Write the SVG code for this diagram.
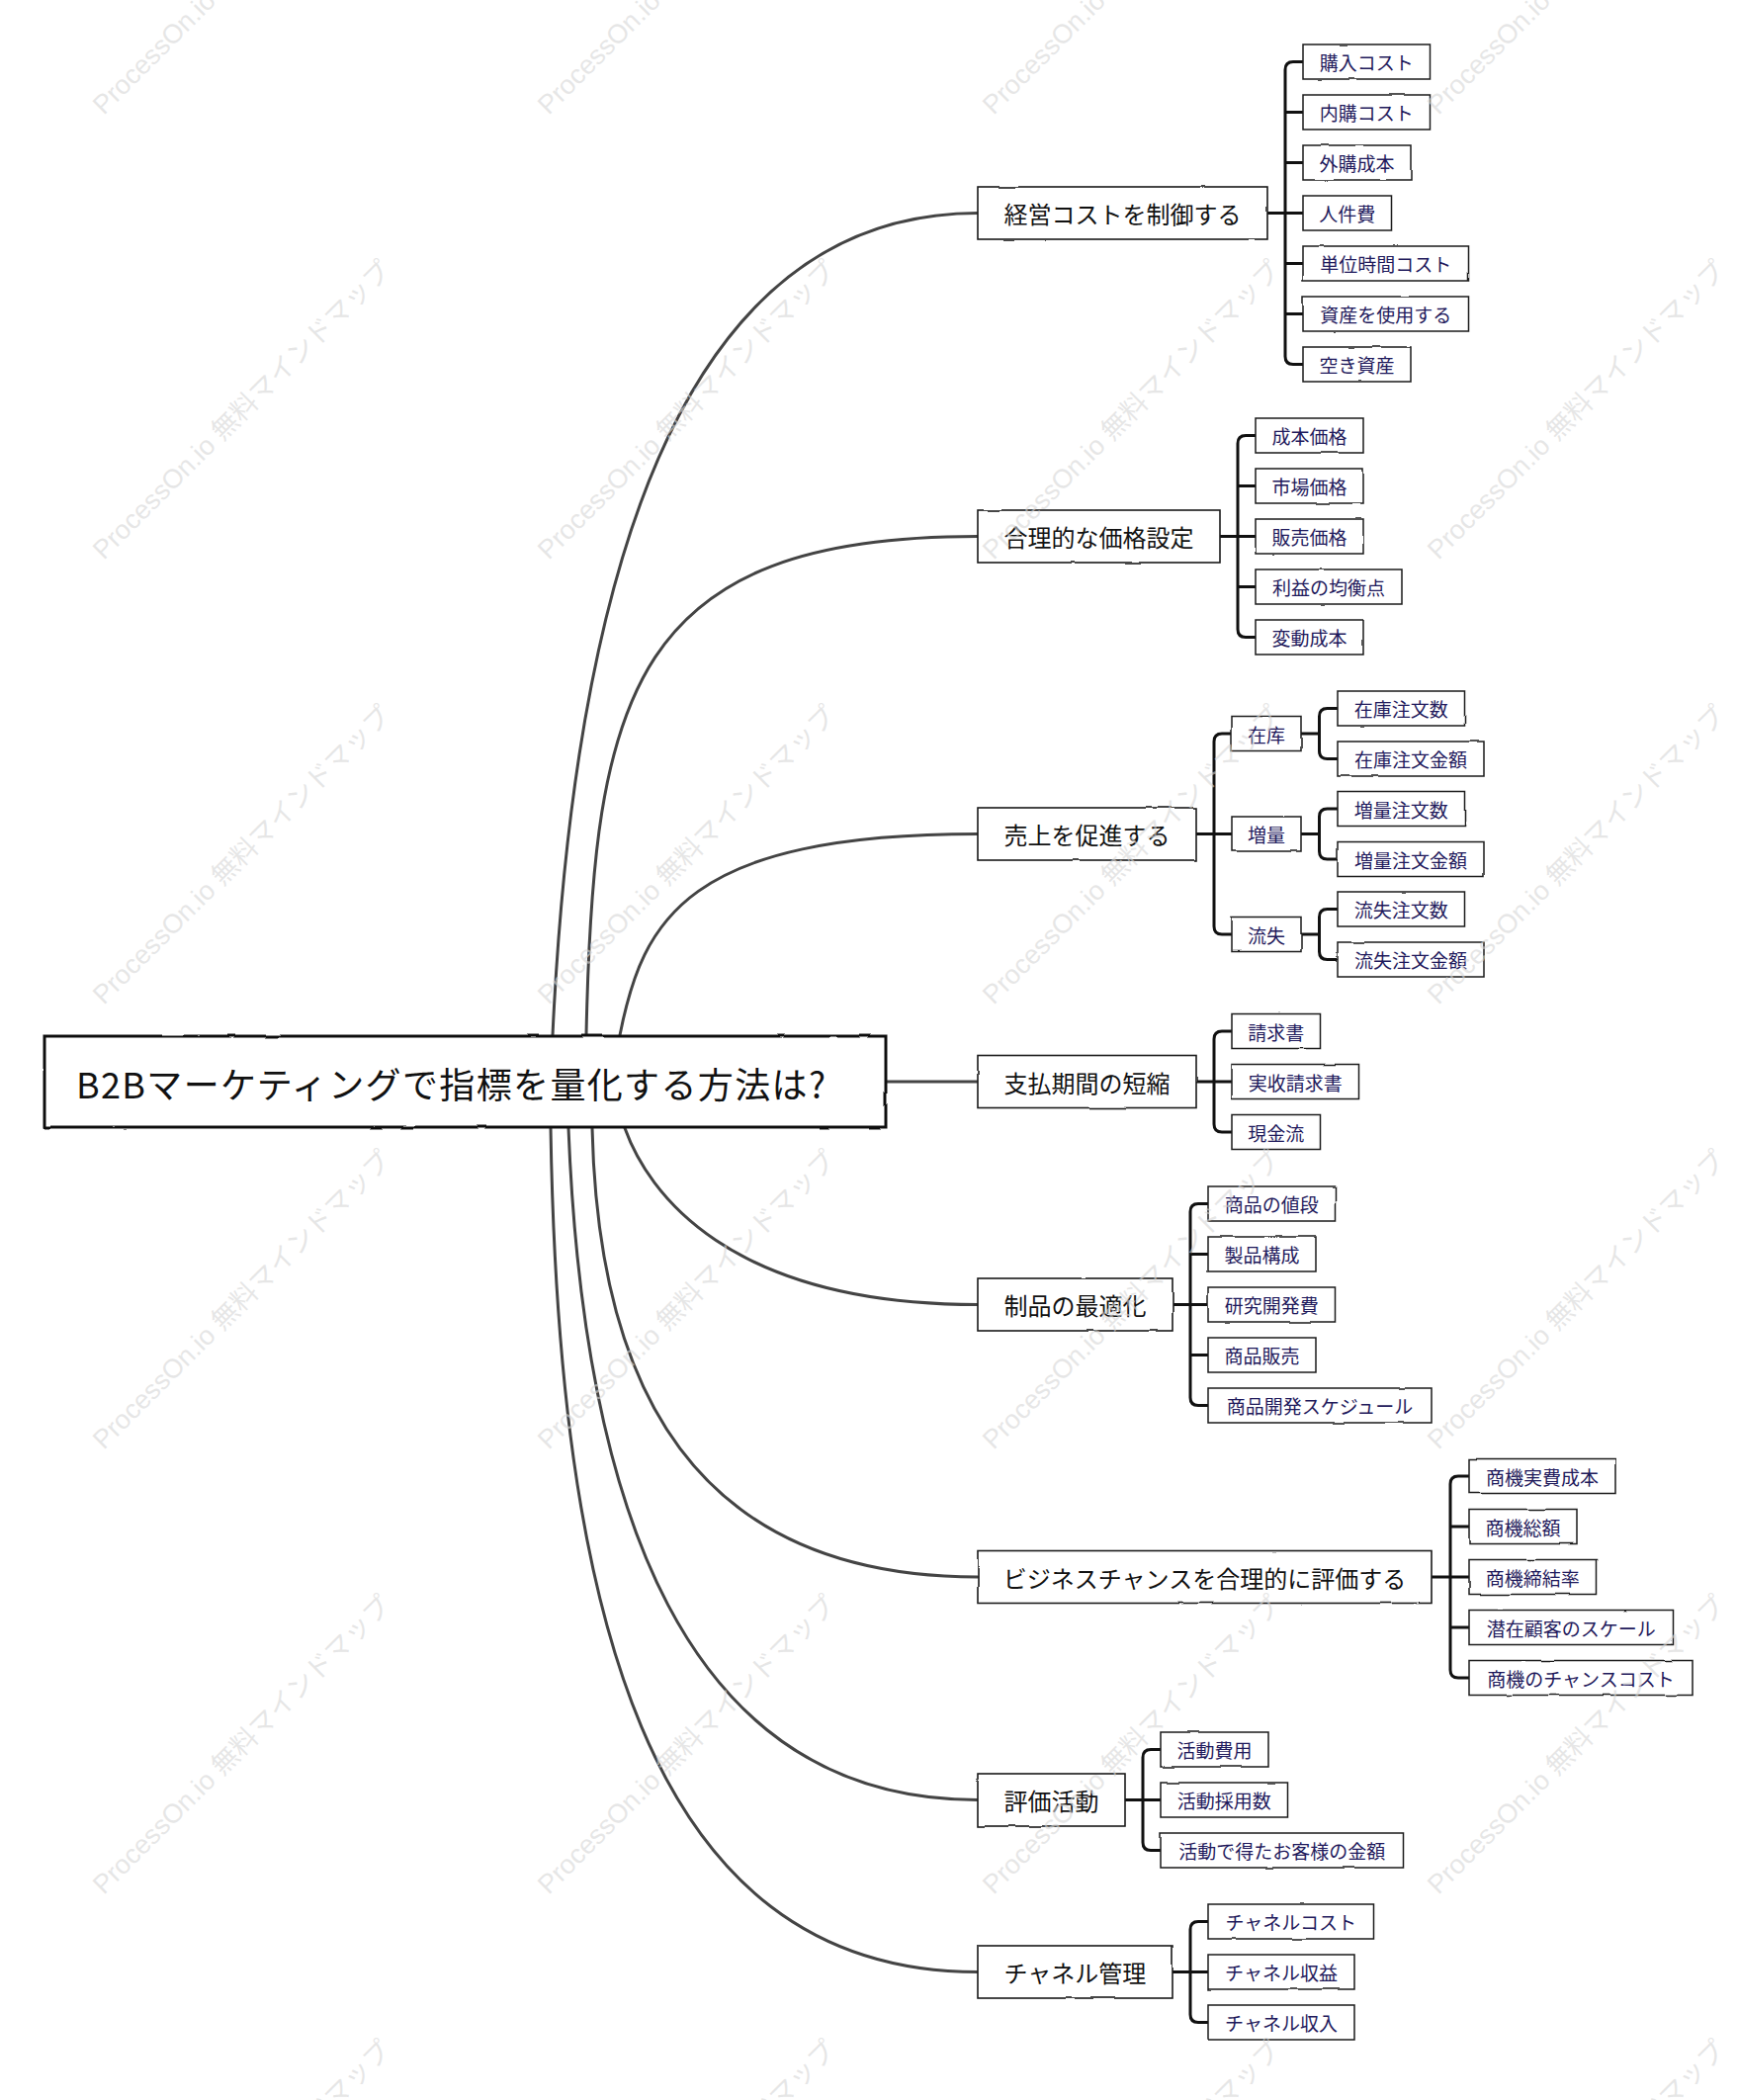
<svg xmlns="http://www.w3.org/2000/svg" width="1758" height="2124" viewBox="0 0 1758 2124">
<style>
.bg{fill:#ffffff}
.curve{fill:none;stroke:#444;stroke-width:3;stroke-linecap:round}
.brk{fill:none;stroke:#111;stroke-width:3;stroke-linecap:round}
.rootbox{fill:#fff;stroke:#111;stroke-width:3}
.bbox{fill:#fff;stroke:#1a1a1a;stroke-width:1.6}
.lbox{fill:#fff;stroke:#1a1a1a;stroke-width:1.5}
.rt{font-family:"Noto Sans CJK JP","Noto Sans",sans-serif;font-size:36px;fill:#111;dominant-baseline:central}
.bt{font-family:"Noto Sans CJK JP","Noto Sans",sans-serif;font-size:24px;fill:#111;text-anchor:middle;dominant-baseline:central}
.lt{font-family:"Noto Sans CJK JP","Noto Sans",sans-serif;font-size:19px;fill:#1f1a5c;text-anchor:middle;dominant-baseline:central}
.wm{font-family:"Liberation Sans","Noto Sans CJK JP",sans-serif;font-size:27px;fill:#d6d6d6;fill-opacity:0.6}
</style>
<defs>
<filter id="rough" x="-5%" y="-25%" width="110%" height="150%">
<feTurbulence type="fractalNoise" baseFrequency="0.03" numOctaves="2" seed="4" result="n"/>
<feDisplacementMap in="SourceGraphic" in2="n" scale="2.2" xChannelSelector="R" yChannelSelector="G"/>
</filter>
</defs>
<rect class="bg" x="0" y="0" width="1758" height="2124"/>

<g id="connectors">
<path class="curve" d="M559,1047 C580,600 680,215.5 989,215.5"/>
<path class="curve" d="M593,1047 C600,700 640,542.5 989,542.5"/>
<path class="curve" d="M627,1047 C650,930 695,843.5 989,843.5"/>
<path class="curve" d="M896,1094 H989"/>
<path class="curve" d="M632,1141 C655,1205 735,1319.5 989,1319.5"/>
<path class="curve" d="M599,1141 C605,1400 700,1595 989,1595"/>
<path class="curve" d="M575,1141 C590,1520 690,1820.5 989,1820.5"/>
<path class="curve" d="M557,1141 C565,1618 650,1994.5 989,1994.5"/>

<path class="brk" d="M1282,215.5 H1300 M1318,62.5 H1308 Q1300,62.5 1300,70.5 V360.5 Q1300,368.5 1308,368.5 H1318 M1300,113.5 H1318 M1300,164.5 H1318 M1300,215.5 H1318 M1300,266.5 H1318 M1300,317.5 H1318"/>
<path class="brk" d="M1234,542.5 H1252 M1270,440.5 H1260 Q1252,440.5 1252,448.5 V636.5 Q1252,644.5 1260,644.5 H1270 M1252,491.5 H1270 M1252,542.5 H1270 M1252,593.5 H1270"/>
<path class="brk" d="M1210,843.5 H1228 M1246,742 H1236 Q1228,742 1228,750 V937 Q1228,945 1236,945 H1246 M1228,843.5 H1246"/>
<path class="brk" d="M1316,742 H1334.5 M1353,716.5 H1342.5 Q1334.5,716.5 1334.5,724.5 V759.5 Q1334.5,767.5 1342.5,767.5 H1353"/>
<path class="brk" d="M1316,843.5 H1334.5 M1353,818 H1342.5 Q1334.5,818 1334.5,826 V861 Q1334.5,869 1342.5,869 H1353"/>
<path class="brk" d="M1316,945 H1334.5 M1353,919.5 H1342.5 Q1334.5,919.5 1334.5,927.5 V962.5 Q1334.5,970.5 1342.5,970.5 H1353"/>
<path class="brk" d="M1210,1094 H1228 M1246,1043 H1236 Q1228,1043 1228,1051 V1137 Q1228,1145 1236,1145 H1246 M1228,1094 H1246"/>
<path class="brk" d="M1186,1319.5 H1204 M1222,1217.5 H1212 Q1204,1217.5 1204,1225.5 V1413.5 Q1204,1421.5 1212,1421.5 H1222 M1204,1268.5 H1222 M1204,1319.5 H1222 M1204,1370.5 H1222"/>
<path class="brk" d="M1448,1595 H1467 M1486,1493 H1475 Q1467,1493 1467,1501 V1689 Q1467,1697 1475,1697 H1486 M1467,1544 H1486 M1467,1595 H1486 M1467,1646 H1486"/>
<path class="brk" d="M1138,1820.5 H1156 M1174,1769.5 H1164 Q1156,1769.5 1156,1777.5 V1863.5 Q1156,1871.5 1164,1871.5 H1174 M1156,1820.5 H1174"/>
<path class="brk" d="M1186,1994.5 H1204 M1222,1943.5 H1212 Q1204,1943.5 1204,1951.5 V2037.5 Q1204,2045.5 1212,2045.5 H1222 M1204,1994.5 H1222"/>
</g>

<g id="root">
<rect class="rootbox" filter="url(#rough)" x="45" y="1048" width="851" height="92"/>
<text class="rt" x="77" y="1095" textLength="758">B2Bマーケティングで指標を量化する方法は?</text>
</g>

<g id="b1"><rect class="bbox" filter="url(#rough)" x="989" y="189" width="293" height="53"/><text class="bt" x="1135.5" y="215.5">経営コストを制御する</text></g>
<g id="b2"><rect class="bbox" filter="url(#rough)" x="989" y="516" width="245" height="53"/><text class="bt" x="1111.5" y="542.5">合理的な価格設定</text></g>
<g id="b3"><rect class="bbox" filter="url(#rough)" x="989" y="817" width="221" height="53"/><text class="bt" x="1099.5" y="843.5">売上を促進する</text></g>
<g id="b4"><rect class="bbox" filter="url(#rough)" x="989" y="1067.5" width="221" height="53"/><text class="bt" x="1099.5" y="1094">支払期間の短縮</text></g>
<g id="b5"><rect class="bbox" filter="url(#rough)" x="989" y="1293" width="197" height="53"/><text class="bt" x="1087.5" y="1319.5">制品の最適化</text></g>
<g id="b6"><rect class="bbox" filter="url(#rough)" x="989" y="1568.5" width="459" height="53"/><text class="bt" x="1218.5" y="1595">ビジネスチャンスを合理的に評価する</text></g>
<g id="b7"><rect class="bbox" filter="url(#rough)" x="989" y="1794" width="149" height="53"/><text class="bt" x="1063.5" y="1820.5">評価活動</text></g>
<g id="b8"><rect class="bbox" filter="url(#rough)" x="989" y="1968" width="197" height="53"/><text class="bt" x="1087.5" y="1994.5">チャネル管理</text></g>

<g id="l1-1"><rect class="lbox" filter="url(#rough)" x="1318" y="45" width="128.5" height="35"/><text class="lt" x="1382.25" y="62.5">購入コスト</text></g>
<g id="l1-2"><rect class="lbox" filter="url(#rough)" x="1318" y="96" width="128.5" height="35"/><text class="lt" x="1382.25" y="113.5">内購コスト</text></g>
<g id="l1-3"><rect class="lbox" filter="url(#rough)" x="1318" y="147" width="109" height="35"/><text class="lt" x="1372.5" y="164.5">外購成本</text></g>
<g id="l1-4"><rect class="lbox" filter="url(#rough)" x="1318" y="198" width="89.5" height="35"/><text class="lt" x="1362.75" y="215.5">人件費</text></g>
<g id="l1-5"><rect class="lbox" filter="url(#rough)" x="1318" y="249" width="167.5" height="35"/><text class="lt" x="1401.75" y="266.5">単位時間コスト</text></g>
<g id="l1-6"><rect class="lbox" filter="url(#rough)" x="1318" y="300" width="167.5" height="35"/><text class="lt" x="1401.75" y="317.5">資産を使用する</text></g>
<g id="l1-7"><rect class="lbox" filter="url(#rough)" x="1318" y="351" width="109" height="35"/><text class="lt" x="1372.5" y="368.5">空き資産</text></g>

<g id="l2-1"><rect class="lbox" filter="url(#rough)" x="1270" y="423" width="109" height="35"/><text class="lt" x="1324.5" y="440.5">成本価格</text></g>
<g id="l2-2"><rect class="lbox" filter="url(#rough)" x="1270" y="474" width="109" height="35"/><text class="lt" x="1324.5" y="491.5">市場価格</text></g>
<g id="l2-3"><rect class="lbox" filter="url(#rough)" x="1270" y="525" width="109" height="35"/><text class="lt" x="1324.5" y="542.5">販売価格</text></g>
<g id="l2-4"><rect class="lbox" filter="url(#rough)" x="1270" y="576" width="148" height="35"/><text class="lt" x="1344" y="593.5">利益の均衡点</text></g>
<g id="l2-5"><rect class="lbox" filter="url(#rough)" x="1270" y="627" width="109" height="35"/><text class="lt" x="1324.5" y="644.5">変動成本</text></g>

<g id="m3-1"><rect class="lbox" filter="url(#rough)" x="1246" y="724.5" width="70" height="35"/><text class="lt" x="1281" y="742">在库</text></g>
<g id="m3-2"><rect class="lbox" filter="url(#rough)" x="1246" y="826" width="70" height="35"/><text class="lt" x="1281" y="843.5">増量</text></g>
<g id="m3-3"><rect class="lbox" filter="url(#rough)" x="1246" y="927.5" width="70" height="35"/><text class="lt" x="1281" y="945">流失</text></g>
<g id="l3-1"><rect class="lbox" filter="url(#rough)" x="1353" y="699" width="128.5" height="35"/><text class="lt" x="1417.25" y="716.5">在庫注文数</text></g>
<g id="l3-2"><rect class="lbox" filter="url(#rough)" x="1353" y="750" width="148" height="35"/><text class="lt" x="1427" y="767.5">在庫注文金額</text></g>
<g id="l3-3"><rect class="lbox" filter="url(#rough)" x="1353" y="800.5" width="128.5" height="35"/><text class="lt" x="1417.25" y="818">増量注文数</text></g>
<g id="l3-4"><rect class="lbox" filter="url(#rough)" x="1353" y="851.5" width="148" height="35"/><text class="lt" x="1427" y="869">増量注文金額</text></g>
<g id="l3-5"><rect class="lbox" filter="url(#rough)" x="1353" y="902" width="128.5" height="35"/><text class="lt" x="1417.25" y="919.5">流失注文数</text></g>
<g id="l3-6"><rect class="lbox" filter="url(#rough)" x="1353" y="953" width="148" height="35"/><text class="lt" x="1427" y="970.5">流失注文金額</text></g>

<g id="l4-1"><rect class="lbox" filter="url(#rough)" x="1246" y="1025.5" width="89.5" height="35"/><text class="lt" x="1290.75" y="1043">請求書</text></g>
<g id="l4-2"><rect class="lbox" filter="url(#rough)" x="1246" y="1076.5" width="128.5" height="35"/><text class="lt" x="1310.25" y="1094">実收請求書</text></g>
<g id="l4-3"><rect class="lbox" filter="url(#rough)" x="1246" y="1127.5" width="89.5" height="35"/><text class="lt" x="1290.75" y="1145">現金流</text></g>

<g id="l5-1"><rect class="lbox" filter="url(#rough)" x="1222" y="1200" width="128.5" height="35"/><text class="lt" x="1286.25" y="1217.5">商品の値段</text></g>
<g id="l5-2"><rect class="lbox" filter="url(#rough)" x="1222" y="1251" width="109" height="35"/><text class="lt" x="1276.5" y="1268.5">製品構成</text></g>
<g id="l5-3"><rect class="lbox" filter="url(#rough)" x="1222" y="1302" width="128.5" height="35"/><text class="lt" x="1286.25" y="1319.5">研究開発費</text></g>
<g id="l5-4"><rect class="lbox" filter="url(#rough)" x="1222" y="1353" width="109" height="35"/><text class="lt" x="1276.5" y="1370.5">商品販売</text></g>
<g id="l5-5"><rect class="lbox" filter="url(#rough)" x="1222" y="1404" width="226" height="35"/><text class="lt" x="1335" y="1421.5">商品開発スケジュール</text></g>

<g id="l6-1"><rect class="lbox" filter="url(#rough)" x="1486" y="1475.5" width="148" height="35"/><text class="lt" x="1560" y="1493">商機実費成本</text></g>
<g id="l6-2"><rect class="lbox" filter="url(#rough)" x="1486" y="1526.5" width="109" height="35"/><text class="lt" x="1540.5" y="1544">商機総額</text></g>
<g id="l6-3"><rect class="lbox" filter="url(#rough)" x="1486" y="1577.5" width="128.5" height="35"/><text class="lt" x="1550.25" y="1595">商機締結率</text></g>
<g id="l6-4"><rect class="lbox" filter="url(#rough)" x="1486" y="1628.5" width="206.5" height="35"/><text class="lt" x="1589.25" y="1646">潜在顧客のスケール</text></g>
<g id="l6-5"><rect class="lbox" filter="url(#rough)" x="1486" y="1679.5" width="226" height="35"/><text class="lt" x="1599" y="1697">商機のチャンスコスト</text></g>

<g id="l7-1"><rect class="lbox" filter="url(#rough)" x="1174" y="1752" width="109" height="35"/><text class="lt" x="1228.5" y="1769.5">活動費用</text></g>
<g id="l7-2"><rect class="lbox" filter="url(#rough)" x="1174" y="1803" width="128.5" height="35"/><text class="lt" x="1238.25" y="1820.5">活動採用数</text></g>
<g id="l7-3"><rect class="lbox" filter="url(#rough)" x="1174" y="1854" width="245.5" height="35"/><text class="lt" x="1296.75" y="1871.5">活動で得たお客様の金額</text></g>

<g id="l8-1"><rect class="lbox" filter="url(#rough)" x="1222" y="1926" width="167.5" height="35"/><text class="lt" x="1305.75" y="1943.5">チャネルコスト</text></g>
<g id="l8-2"><rect class="lbox" filter="url(#rough)" x="1222" y="1977" width="148" height="35"/><text class="lt" x="1296" y="1994.5">チャネル収益</text></g>
<g id="l8-3"><rect class="lbox" filter="url(#rough)" x="1222" y="2028" width="148" height="35"/><text class="lt" x="1296" y="2045.5">チャネル収入</text></g>

<g id="watermark" class="wm">
<text transform="translate(105,117) rotate(-45)">ProcessOn.io 無料マインドマップ</text>
<text transform="translate(555,117) rotate(-45)">ProcessOn.io 無料マインドマップ</text>
<text transform="translate(1005,117) rotate(-45)">ProcessOn.io 無料マインドマップ</text>
<text transform="translate(1455,117) rotate(-45)">ProcessOn.io 無料マインドマップ</text>
<text transform="translate(105,567) rotate(-45)">ProcessOn.io 無料マインドマップ</text>
<text transform="translate(555,567) rotate(-45)">ProcessOn.io 無料マインドマップ</text>
<text transform="translate(1005,567) rotate(-45)">ProcessOn.io 無料マインドマップ</text>
<text transform="translate(1455,567) rotate(-45)">ProcessOn.io 無料マインドマップ</text>
<text transform="translate(105,1017) rotate(-45)">ProcessOn.io 無料マインドマップ</text>
<text transform="translate(555,1017) rotate(-45)">ProcessOn.io 無料マインドマップ</text>
<text transform="translate(1005,1017) rotate(-45)">ProcessOn.io 無料マインドマップ</text>
<text transform="translate(1455,1017) rotate(-45)">ProcessOn.io 無料マインドマップ</text>
<text transform="translate(105,1467) rotate(-45)">ProcessOn.io 無料マインドマップ</text>
<text transform="translate(555,1467) rotate(-45)">ProcessOn.io 無料マインドマップ</text>
<text transform="translate(1005,1467) rotate(-45)">ProcessOn.io 無料マインドマップ</text>
<text transform="translate(1455,1467) rotate(-45)">ProcessOn.io 無料マインドマップ</text>
<text transform="translate(105,1917) rotate(-45)">ProcessOn.io 無料マインドマップ</text>
<text transform="translate(555,1917) rotate(-45)">ProcessOn.io 無料マインドマップ</text>
<text transform="translate(1005,1917) rotate(-45)">ProcessOn.io 無料マインドマップ</text>
<text transform="translate(1455,1917) rotate(-45)">ProcessOn.io 無料マインドマップ</text>
<text transform="translate(105,2367) rotate(-45)">ProcessOn.io 無料マインドマップ</text>
<text transform="translate(555,2367) rotate(-45)">ProcessOn.io 無料マインドマップ</text>
<text transform="translate(1005,2367) rotate(-45)">ProcessOn.io 無料マインドマップ</text>
<text transform="translate(1455,2367) rotate(-45)">ProcessOn.io 無料マインドマップ</text>
</g>
</svg>
